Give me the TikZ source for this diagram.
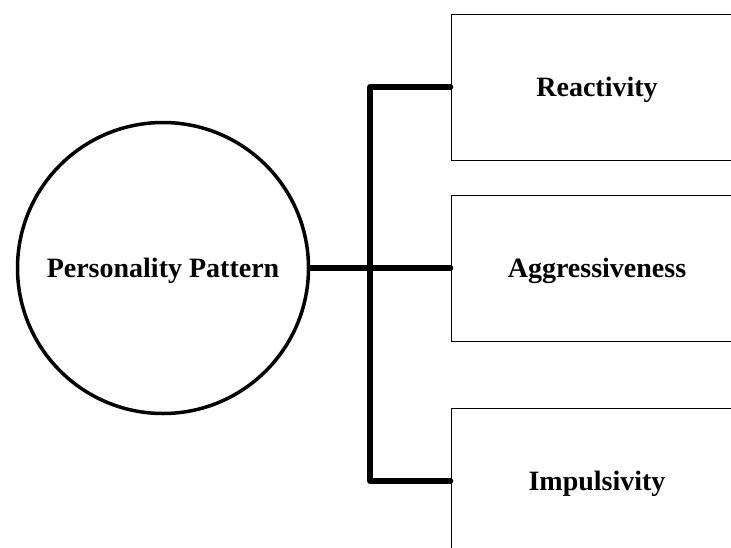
\documentclass[tikz,border=0pt]{standalone}
\usepackage{fontspec}
\setmainfont{Liberation Serif}
\begin{document}
\begin{tikzpicture}[x=1pt,y=-1pt,
  lbl/.style={font=\fontsize{28}{33}\selectfont\bfseries, text height=19pt, text depth=0pt},
  hub/.style={circle, draw, line width=3.5pt, minimum size=291pt, inner sep=0pt, lbl},
  trait/.style={rectangle, draw, line width=1pt, minimum width=292pt, minimum height=146pt, inner sep=0pt, lbl},
  conn/.style={line width=5.5pt, line cap=round, line join=round}]
\useasboundingbox (0,0) rectangle (731,547);
\clip (0,0) rectangle (731,547);
% central concept and its three traits
\node[hub] (pp) at (163,268) {Personality Pattern};
\node[trait] (r) at (597,87) {Reactivity};
\node[trait] (a) at (597,268) {Aggressiveness};
\node[trait] (i) at (597,481) {Impulsivity};
% bracket joining the traits
\coordinate (trunk) at (370,481);
\draw[conn] (pp.east) -- (a.west);
\draw[conn] (r.west) -| (trunk) -- (i.west);
\end{tikzpicture}
\end{document}
